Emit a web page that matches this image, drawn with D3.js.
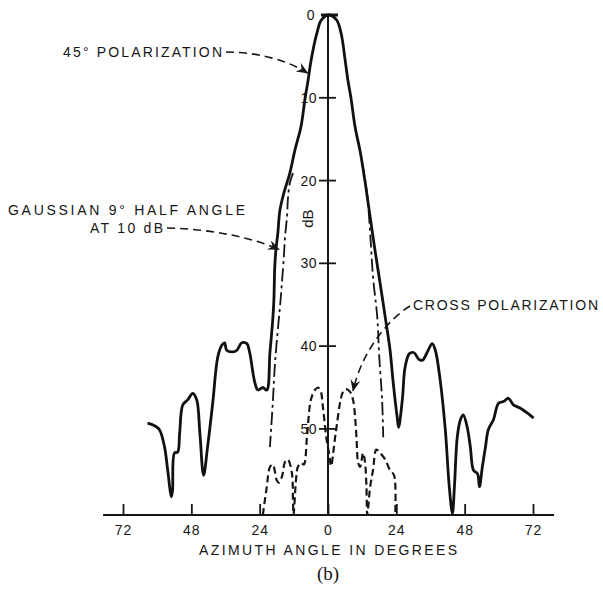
<!DOCTYPE html>
<html><head><meta charset="utf-8">
<script src="https://cdn.jsdelivr.net/npm/d3@7"></script>
<style>
body{margin:0;background:#fff}
svg{display:block;background:#fff}
text{font-family:"Liberation Sans",Arial,Helvetica,sans-serif;fill:#161616}
</style>
</head><body>
<svg id="chart" width="603" height="594"></svg>
<script>
// ---- data (angle in degrees, level in dB below peak) ----
const xTicks = [-72, -48, -24, 0, 24, 48, 72];
const xTickLabels = ["72", "48", "24", "0", "24", "48", "72"];
const yTicks = [0, 10, 20, 30, 40, 50];
const yTickLabels = ["0", "10", "20", "30", "40", "50"];

const copol45 = [
  [-63.4,49.3],[-61,49.6],[-59.2,50.1],[-57.4,52.2],[-56.3,55],[-55,58.2],[-54.6,57.4],
  [-53.9,52.9],[-52.8,52.8],[-52.1,50.5],[-51,47.1],[-49.3,46.5],[-47.5,45.7],[-46.1,46.5],
  [-45,50.5],[-43.7,55.6],[-42.3,52.2],[-40.5,46.9],[-38.7,41.3],[-37.3,39.9],[-36.3,39.6],
  [-35.6,40.5],[-33.5,40.7],[-32,40.5],[-30.3,39.6],[-28.5,39.7],[-27.5,40.8],[-25.7,44.4],
  [-24.6,45.3],[-22.9,45],[-21.5,45.3],[-20.4,40.8],[-19.4,36.8],[-19,34.4],[-18.7,30.4],
  [-18.3,28.4],[-17.6,26.3],[-16.9,23.6],[-15.5,21.5],[-13.4,19.1],[-11.6,16.3],[-9.5,13.5],
  [-8.1,10.2],[-7.0,7.9],[-5.9,5.4],[-3.9,2.2],[-2.3,0.6],[0.3,0],[3.0,0.6],[4.6,2.2],
  [6.0,5.4],[7.0,7.9],[8.1,10.1],[9.5,13.5],[11.3,16.5],[13,20.1],[14.8,24.4],[16.5,28.4],
  [18.3,32.4],[20.1,36.5],[21.8,40.5],[22.9,44.4],[24.3,48.6],[24.8,49.8],[26.1,46.5],
  [27.1,42.5],[28.6,40.9],[30.2,40.8],[31.9,41.6],[33.2,41.7],[34.9,40.7],[36.6,39.7],
  [37.7,40.5],[39.4,44.1],[41.2,50.1],[42.6,57],[43.7,60.2],[44.4,57],[45.4,51],[46.5,48.9],
  [47.5,48.3],[48.9,49.8],[50,52.2],[51.1,55],[52.5,55.4],[53.2,57],[54.2,54.6],[55.3,52.2],
  [56.3,50.1],[58.1,48.9],[59.9,46.9],[61.6,46.7],[63.4,46.3],[65.1,47.1],[67.6,47.5],
  [70.1,48.1],[72.2,48.7]
];

const gaussLeft = [
  [-12.3,19.1],[-13.4,20.3],[-14.1,22.3],[-14.4,24.4],[-15.1,26.8],[-15.5,29.2],
  [-16.2,32.4],[-16.7,34.6],[-17.4,37.2],[-18.6,42],[-19.4,46.9],[-20.4,52.2]
];
const gaussRight = [
  [12,17.9],[13.7,21.5],[14.8,26.3],[15.8,31.6],[17.3,36.5],[18,41.3],[19,46.5],[19.4,51]
];

const crossPol = [
  [-22.9,60.4],[-21.5,57],[-20.4,54.6],[-19.4,54.3],[-18,56.2],[-17.3,56.5],[-16.2,55.8],
  [-15.1,54],[-14.1,53.7],[-12.7,55.3],[-12.3,58.6],[-12.1,60.4],[-11.2,56],[-10.6,54.6],
  [-9.5,54.1],[-8.5,54.3],[-7.4,51],[-6.3,47],[-5.6,46],[-4.6,45.3],[-3.5,45],[-2.5,45.5],
  [-1.8,47.3],[-1.1,49.5],[-0.4,51.5],[0.4,53],[1.1,54.5],[1.8,53],[2.5,51],[3.2,49.3],
  [4.2,46.9],[5.3,45.5],[6.3,45.2],[7.7,45.5],[8.8,46.5],[9.5,48.5],[10.0,51],[10.6,54.1],
  [11.3,54.6],[12.3,52.9],[13.0,54],[13.5,57],[13.8,60.4],[14.8,57],[15.8,55],[17.0,52.5],
  [18.3,52.9],[20.1,53.7],[21.8,55],[23.2,55.6],[23.6,60.4]
];

// ---- scales ----
const svg = d3.select("#chart");
const x = d3.scaleLinear().domain([-72, 72]).range([123, 533]);
const y = d3.scaleLinear().domain([0, 60.4]).range([15, 515]);
const x0 = x(0);

const line = d3.line().x(d => x(d[0])).y(d => y(d[1])).curve(d3.curveCatmullRom.alpha(0.5));

// ---- axes ----
const xAxis = d3.axisBottom(x).tickValues(xTicks)
  .tickFormat((d, i) => xTickLabels[i]).tickSizeInner(-11).tickSizeOuter(0).tickPadding(10);
const gx = svg.append("g").attr("transform", `translate(0,${y(60.4)})`).call(xAxis);
gx.select(".domain").remove();
gx.selectAll(".tick line").attr("stroke", "#161616").attr("stroke-width", 1.8);
gx.selectAll(".tick text").attr("font-size", 14).attr("letter-spacing", 1)
  .attr("font-family", '"Liberation Sans",Arial,sans-serif').attr("fill", "#161616");
svg.append("line").attr("x1", x(-79)).attr("x2", x(79.4))
  .attr("y1", y(60.4)).attr("y2", y(60.4)).attr("stroke", "#161616").attr("stroke-width", 2);

svg.append("line").attr("x1", x0).attr("x2", x0).attr("y1", y(0)).attr("y2", y(60.4))
  .attr("stroke", "#161616").attr("stroke-width", 2);
const gy = svg.append("g");
gy.selectAll("line.yt").data(yTicks).join("line").attr("class", "yt")
  .attr("x1", d => d === 0 ? x0 - 7 : x0 - 9).attr("x2", d => d === 0 ? x0 + 10 : x0 + 8)
  .attr("y1", d => y(d)).attr("y2", d => y(d))
  .attr("stroke", "#161616").attr("stroke-width", d => d === 0 ? 3 : 1.8);
gy.selectAll("text").data(yTicks).join("text")
  .attr("x", d => d === 0 ? x0 - 13 : x0 - 11).attr("y", d => y(d)).attr("dy", "0.36em")
  .attr("text-anchor", "end").attr("font-size", 14).attr("letter-spacing", 0.5)
  .text((d, i) => yTickLabels[i]);
svg.append("text").attr("transform", `translate(${x0 - 20},${y(24.6)}) rotate(-90)`)
  .attr("text-anchor", "middle").attr("dy", "0.35em").attr("font-size", 15).text("dB");

// ---- curves ----
svg.append("path").datum(gaussLeft).attr("d", line).attr("fill", "none")
  .attr("stroke", "#161616").attr("stroke-width", 1.8).attr("stroke-dasharray", "13,4,3,4");
svg.append("path").datum(gaussRight).attr("d", line).attr("fill", "none")
  .attr("stroke", "#161616").attr("stroke-width", 1.8).attr("stroke-dasharray", "13,4,3,4");
svg.append("path").datum(crossPol).attr("d", line).attr("fill", "none")
  .attr("stroke", "#161616").attr("stroke-width", 2.2).attr("stroke-dasharray", "7,4");
svg.append("path").datum(copol45).attr("d", line).attr("fill", "none")
  .attr("stroke", "#111").attr("stroke-width", 2.8).attr("stroke-linejoin", "round");

// ---- annotations ----
const defs = svg.append("defs");
defs.append("marker").attr("id", "arr").attr("viewBox", "0 0 12 10").attr("refX", 11).attr("refY", 5)
  .attr("markerWidth", 12).attr("markerHeight", 10).attr("markerUnits", "userSpaceOnUse")
  .attr("orient", "auto")
  .append("path").attr("d", "M0,0 L12,5 L0,10 L4,5 Z").attr("fill", "#161616");

function leader(x1, y1, c1x, c1y, c2x, c2y, tx, ty) {
  svg.append("path")
    .attr("d", `M${x1},${y1} C${c1x},${c1y} ${c2x},${c2y} ${tx},${ty}`)
    .attr("fill", "none").attr("stroke", "#161616").attr("stroke-width", 1.6)
    .attr("stroke-dasharray", "8,5").attr("marker-end", "url(#arr)");
}
function label(txt, xx, yy, len, anchor) {
  svg.append("text").attr("x", xx).attr("y", yy).attr("font-size", 14)
    .attr("text-anchor", anchor || "start")
    .attr("textLength", len).attr("lengthAdjust", "spacing").text(txt);
}

label("45° POLARIZATION", 63, 57, 159);
leader(226, 52, 255, 52, 285, 59, x(-7.2), y(7));

label("GAUSSIAN 9°  HALF ANGLE", 8, 215, 237);
label("AT 10 dB", 90, 233, 73);
leader(167, 228, 210, 229, 250, 237, x(-17.2), y(28.3));

label("CROSS POLARIZATION", 413, 310, 185);
leader(410, 306, 390, 318, 362, 350, x(8.8), y(45.4));

svg.append("text").attr("x", x(0)).attr("y", 555).attr("text-anchor", "middle")
  .attr("font-size", 14).attr("textLength", 258).attr("lengthAdjust", "spacing")
  .text("AZIMUTH ANGLE IN DEGREES");
svg.append("text").attr("x", x(0)).attr("y", 580).attr("text-anchor", "middle")
  .attr("font-size", 19).style("font-family", '"Liberation Serif","Times New Roman",serif')
  .text("(b)");
</script>
</body></html>
